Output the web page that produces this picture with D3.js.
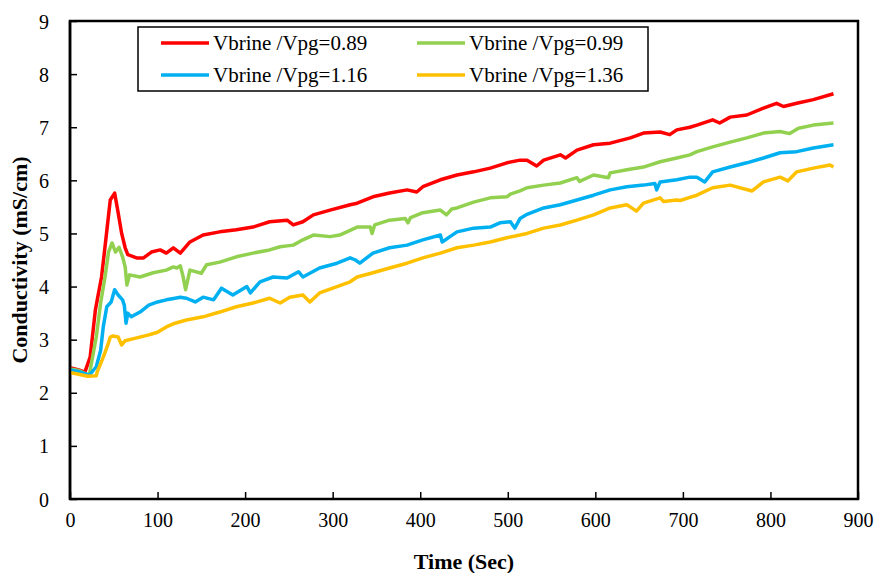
<!DOCTYPE html>
<html><head><meta charset="utf-8">
<script src="https://cdn.jsdelivr.net/npm/d3@7"></script>
<style>body{margin:0;background:#fff}svg{display:block}</style>
</head><body><svg id="c" width="875" height="573"></svg>
<script>
const FONT="Liberation Serif, Tinos, Times New Roman, DejaVu Serif, Noto Serif, serif";
const xTicks=[0,100,200,300,400,500,600,700,800,900];
const yTicks=[0,1,2,3,4,5,6,7,8,9];
const seriesNames=["Vbrine /Vpg=0.89","Vbrine /Vpg=0.99","Vbrine /Vpg=1.16","Vbrine /Vpg=1.36"];
const seriesColors=["#FF0000","#92D050","#00B0F0","#FFC000"];

const tRed=[0,10,17,23,29,36,40,46,51,55,59,63,66,76,84,93,103,110,118,126,137,152,171,190,209,228,248,255,266,278,297,320,328,346,365,385,396,403,423,442,461,480,499,514,522,533,541,560,566,579,598,617,640,655,674,685,693,708,716,734,742,754,773,792,807,815,830,849,872];
const vRed=[2.47,2.43,2.39,2.67,3.56,4.18,4.75,5.63,5.76,5.39,5.0,4.73,4.6,4.54,4.54,4.65,4.69,4.63,4.73,4.63,4.84,4.97,5.03,5.07,5.12,5.22,5.25,5.16,5.22,5.35,5.44,5.54,5.57,5.69,5.76,5.82,5.78,5.88,6.01,6.1,6.16,6.23,6.33,6.38,6.38,6.27,6.38,6.48,6.42,6.57,6.67,6.7,6.8,6.89,6.91,6.86,6.95,7.0,7.04,7.14,7.08,7.19,7.23,7.36,7.45,7.39,7.45,7.52,7.63];

const tGreen=[0,10,22,30,35,40,44,48,52,56,60,63,65,68,80,95,110,118,122,126,129,132,137,150,156,171,190,209,228,240,255,266,278,297,308,328,343,345,348,365,383,386,389,403,423,430,436,442,461,480,499,503,514,522,541,560,579,582,598,615,617,636,655,674,693,708,716,734,754,773,792,811,822,832,849,872];
const vGreen=[2.45,2.42,2.33,3.05,3.69,4.18,4.65,4.82,4.65,4.74,4.56,4.37,4.03,4.22,4.18,4.26,4.31,4.37,4.35,4.39,4.2,3.94,4.31,4.25,4.41,4.46,4.56,4.63,4.69,4.75,4.78,4.88,4.97,4.94,4.97,5.12,5.12,5.0,5.16,5.25,5.28,5.2,5.3,5.39,5.44,5.35,5.46,5.48,5.59,5.67,5.69,5.74,5.8,5.86,5.91,5.95,6.05,5.98,6.1,6.05,6.14,6.2,6.25,6.35,6.42,6.48,6.54,6.63,6.72,6.8,6.89,6.92,6.88,6.98,7.04,7.08];

const tBlue=[0,10,22,30,35,38,42,47,51,55,60,62,64,66,70,80,90,100,110,120,126,133,143,152,164,173,186,202,206,217,232,248,261,266,285,305,320,326,331,346,365,385,403,423,425,442,461,480,491,503,508,514,522,541,560,579,598,617,636,655,668,670,674,693,708,716,725,734,754,773,792,811,830,849,872];
const vBlue=[2.43,2.4,2.33,2.49,2.8,3.24,3.62,3.71,3.94,3.84,3.75,3.65,3.31,3.5,3.43,3.52,3.65,3.71,3.75,3.78,3.8,3.78,3.71,3.8,3.75,3.97,3.84,4.0,3.88,4.09,4.18,4.16,4.28,4.18,4.35,4.44,4.54,4.5,4.44,4.63,4.73,4.78,4.88,4.97,4.84,5.03,5.1,5.12,5.2,5.22,5.1,5.28,5.36,5.48,5.54,5.63,5.72,5.82,5.88,5.91,5.94,5.82,5.97,6.01,6.06,6.06,5.97,6.16,6.25,6.33,6.42,6.52,6.54,6.61,6.67];

const tYellow=[0,10,20,30,31,38,44,46,49,55,59,63,75,90,100,110,120,133,152,171,190,209,228,240,251,266,274,285,305,320,328,346,365,385,403,423,442,461,480,499,514,522,541,560,579,598,617,636,647,655,674,678,693,697,708,716,734,754,779,792,811,820,830,849,868,872];
const vYellow=[2.38,2.35,2.31,2.32,2.39,2.67,2.94,3.05,3.07,3.05,2.9,2.98,3.03,3.09,3.14,3.24,3.31,3.37,3.43,3.52,3.62,3.69,3.78,3.69,3.8,3.84,3.71,3.88,4.0,4.09,4.18,4.26,4.35,4.44,4.54,4.63,4.73,4.78,4.84,4.92,4.97,5.0,5.1,5.16,5.25,5.35,5.48,5.54,5.42,5.57,5.67,5.6,5.63,5.62,5.68,5.72,5.86,5.91,5.8,5.97,6.06,5.99,6.16,6.23,6.29,6.25];

const times=[tRed,tGreen,tBlue,tYellow];
const values=[vRed,vGreen,vBlue,vYellow];

const svg=d3.select("#c");
const L=70,R=858,T=21,B=499;
const x=d3.scaleLinear().domain([0,900]).range([L,R]);
const y=d3.scaleLinear().domain([0,9]).range([B,T]);

const gx=svg.append("g").attr("transform",`translate(0,${B})`)
  .call(d3.axisBottom(x).tickValues(xTicks).tickSize(-7).tickSizeOuter(0));
gx.attr("font-family",null).style("font-family",FONT).attr("font-size",20);
gx.select(".domain").remove();
gx.selectAll("line").attr("stroke","#000").attr("stroke-width",1.5);
gx.selectAll("text").attr("fill","#000").attr("y",14).attr("dy","0.71em").style("font-family",FONT);

const gy=svg.append("g").attr("transform",`translate(${L},0)`)
  .call(d3.axisLeft(y).tickValues(yTicks).tickSize(-7).tickSizeOuter(0));
gy.attr("font-family",null).style("font-family",FONT).attr("font-size",20);
gy.select(".domain").remove();
gy.selectAll("line").attr("stroke","#000").attr("stroke-width",1.5);
gy.selectAll("text").attr("fill","#000").attr("x",-21).attr("dy","0.35em").style("font-family",FONT);

svg.append("rect").attr("x",L).attr("y",T).attr("width",R-L).attr("height",B-T)
  .attr("fill","none").attr("stroke","#000").attr("stroke-width",2.5);

const line=d3.line().x(d=>x(d[0])).y(d=>y(d[1]));
for(let i=0;i<4;i++){
  const data=times[i].map((t,j)=>[t,values[i][j]]);
  svg.append("path").datum(data).attr("d",line).attr("fill","none")
    .attr("stroke",seriesColors[i]).attr("stroke-width",3.5).attr("stroke-linejoin","round");
}
svg.append("line").attr("x1",L).attr("x2",L).attr("y1",T).attr("y2",B).attr("stroke","#000").attr("stroke-width",2.5);

svg.append("text").attr("x",(L+R)/2).attr("y",569).attr("text-anchor","middle")
  .style("font-family",FONT).attr("font-size",22).attr("font-weight","bold").text("Time (Sec)");
svg.append("text").attr("transform",`translate(27,${(T+B)/2}) rotate(-90)`).attr("text-anchor","middle")
  .style("font-family",FONT).attr("font-size",22).attr("font-weight","bold").text("Conductivity (mS/cm)");

const lg=svg.append("g");
lg.append("rect").attr("x",138).attr("y",27).attr("width",510).attr("height",64)
  .attr("fill","#fff").attr("stroke","#000").attr("stroke-width",1.5);
const lpos=[[161,43],[417,43],[161,75],[417,75]];
seriesNames.forEach((n,i)=>{
  const [lx,ly]=lpos[i];
  lg.append("line").attr("x1",lx).attr("x2",lx+48).attr("y1",ly).attr("y2",ly)
    .attr("stroke",seriesColors[i]).attr("stroke-width",3.5);
  lg.append("text").attr("x",lx+52).attr("y",ly).attr("dy","0.35em")
    .style("font-family",FONT).attr("font-size",21).text(n);
});
</script></body></html>
